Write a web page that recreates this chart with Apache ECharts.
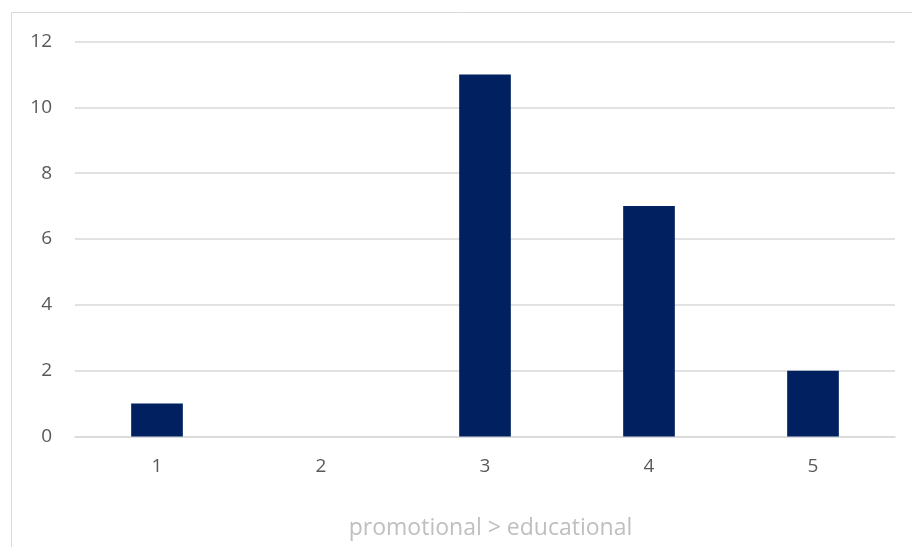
<!DOCTYPE html>
<html>
<head>
<meta charset="utf-8">
<script src="https://cdn.jsdelivr.net/npm/echarts@6/dist/echarts.min.js"></script>
<style>
  html, body { margin: 0; padding: 0; background: #ffffff; }
  #chart { width: 912px; height: 547px; }
</style>
</head>
<body>
<div id="chart"></div>
<script>
// Ratings on a 1–5 scale and how many responses fell on each
const categories = ['1', '2', '3', '4', '5'];
const counts = [1, 0, 11, 7, 2];
const yTicks = { min: 0, max: 12, step: 2 };
const axisTitle = 'promotional > educational';

const chart = echarts.init(document.getElementById('chart'), null, { renderer: 'canvas' });

chart.setOption({
  animation: false,
  backgroundColor: '#ffffff',
  graphic: [{
    type: 'rect',
    shape: { x: 11.5, y: 12.5, width: 930, height: 560 },
    style: { fill: 'none', stroke: '#d9d9d9', lineWidth: 1 },
    silent: true
  }],
  grid: { left: 75, right: 17, top: 41.5, bottom: 110.5 },
  xAxis: {
    type: 'category',
    data: categories,
    name: axisTitle,
    nameLocation: 'middle',
    nameGap: 80,
    nameTextStyle: { color: '#bfbfbf', fontSize: 23, fontFamily: 'Open Sans', padding: [0, 0, 0, 11] },
    axisLine: { show: true, lineStyle: { color: '#d9d9d9', width: 1.5 } },
    axisTick: { show: false },
    axisLabel: { color: '#595959', fontSize: 19, fontFamily: 'Open Sans', margin: 21 }
  },
  yAxis: {
    type: 'value',
    min: yTicks.min,
    max: yTicks.max,
    interval: yTicks.step,
    axisLine: { show: false },
    axisTick: { show: false },
    axisLabel: { color: '#595959', fontSize: 19, fontFamily: 'Open Sans', margin: 23 },
    splitLine: { lineStyle: { color: '#d9d9d9', width: 1.5 } }
  },
  series: [{
    type: 'bar',
    data: counts,
    barWidth: '31.5%',
    itemStyle: { color: '#002060' }
  }]
});
</script>
</body>
</html>
